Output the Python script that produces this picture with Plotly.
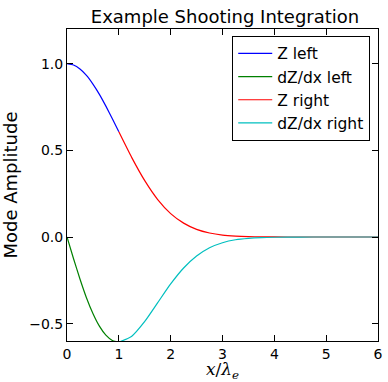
import plotly.graph_objects as go

# sample positions (x / lambda_e)
x_left = [0.0, 0.125, 0.25, 0.375, 0.5, 0.625, 0.75, 0.875, 1.0]
x_right = [1.0, 1.25, 1.5, 1.75, 2.0, 2.25, 2.5, 2.75, 3.0, 3.25, 3.5, 3.75,
           4.0, 4.5, 5.0, 5.5, 6.0]

# mode amplitude and derivative, integrated from the left boundary
z_left = [1.00, 0.992, 0.969, 0.932, 0.882, 0.823, 0.755, 0.682, 0.607]
dz_left = [0.000, -0.124, -0.242, -0.350, -0.441, -0.514, -0.566, -0.597, -0.607]

# mode amplitude and derivative, integrated from the right boundary
z_right = [0.607, 0.458, 0.325, 0.216, 0.135, 0.080, 0.044, 0.023, 0.011,
           0.005, 0.002, 0.001, 0.0003, 0.0, 0.0, 0.0, 0.0]
dz_right = [-0.607, -0.572, -0.487, -0.379, -0.271, -0.179, -0.110, -0.062,
            -0.033, -0.016, -0.0076, -0.0033, -0.0013, -0.0002, 0.0, 0.0, 0.0]

series = [
    ("Z left", x_left, z_left, "#0000ff"),
    ("dZ/dx left", x_left, dz_left, "#008000"),
    ("Z right", x_right, z_right, "#ff0000"),
    ("dZ/dx right", x_right, dz_right, "#00bfbf"),
]

fig = go.Figure()
for name, xs, ys, color in series:
    fig.add_trace(go.Scatter(
        x=xs, y=ys, name=name, mode="lines",
        line=dict(color=color, width=1.2, shape="spline", smoothing=0.6),
    ))

axis_common = dict(
    showline=True, linecolor="black", linewidth=1, mirror="ticks",
    ticks="inside", ticklen=6, tickcolor="black", tickwidth=1,
    showgrid=False, zeroline=False,
    tickfont=dict(family="DejaVu Sans", size=14, color="black"),
)

fig.update_layout(
    width=388, height=382,
    margin=dict(l=67, r=5, t=29, b=41),
    paper_bgcolor="white", plot_bgcolor="white",
    font=dict(family="DejaVu Sans", color="black"),
    title=dict(text="Example Shooting Integration", x=0.58, xanchor="center",
               y=0.955, yanchor="middle",
               font=dict(family="DejaVu Sans", size=18, color="black")),
    xaxis=dict(range=[0, 6], tickvals=[0, 1, 2, 3, 4, 5, 6],
               title=dict(text="<i>x</i>/<i>λ</i><sub><i>e</i></sub>",
                          font=dict(family="DejaVu Serif", size=17), standoff=1),
               **axis_common),
    yaxis=dict(range=[-0.6, 1.2], tickvals=[-0.5, 0.0, 0.5, 1.0],
               ticktext=["−0.5", "0.0", "0.5", "1.0"],
               title=dict(text="Mode Amplitude",
                          font=dict(family="DejaVu Sans", size=18), standoff=8),
               **axis_common),
    legend=dict(x=0.975, y=0.978, xanchor="right", yanchor="top",
                bordercolor="black", borderwidth=1, bgcolor="white",
                font=dict(family="DejaVu Sans", size=15.5, color="black"),
                itemwidth=34, tracegroupgap=0),
    showlegend=True,
)

fig.write_html("out.html")
